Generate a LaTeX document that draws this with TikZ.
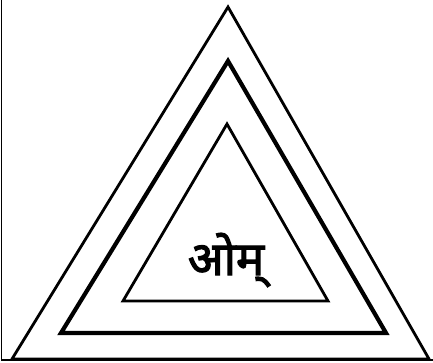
\documentclass[tikz,border=0pt]{standalone}
\usepackage{fontspec}
\newfontfamily\devfont[Script=Devanagari,FakeBold=2.5]{Noto Sans}
\begin{document}
\begin{tikzpicture}[x=1pt,y=-1pt,
  thinline/.style={line width=2.8pt,line join=miter},
  thickline/.style={line width=4.2pt,line join=miter},
  label/.style={inner sep=0pt,font=\devfont\fontsize{47}{50}\selectfont}]
\useasboundingbox (0,0) rectangle (433,363);
% frame
\draw[line width=1.5pt] (1.5,0) -- (1.5,360) -- (433,360);
% outer triangle
\draw[thinline] (228,7) -- (429,359) -- (12,359) -- cycle;
% middle triangle
\draw[thickline] (228,61) -- (386,333) -- (61,333) -- cycle;
% inner triangle
\draw[thinline] (227,124) -- (328,301) -- (123,301) -- cycle;
\node[label] (om) at (226,260) {ओम्};
\end{tikzpicture}
\end{document}
